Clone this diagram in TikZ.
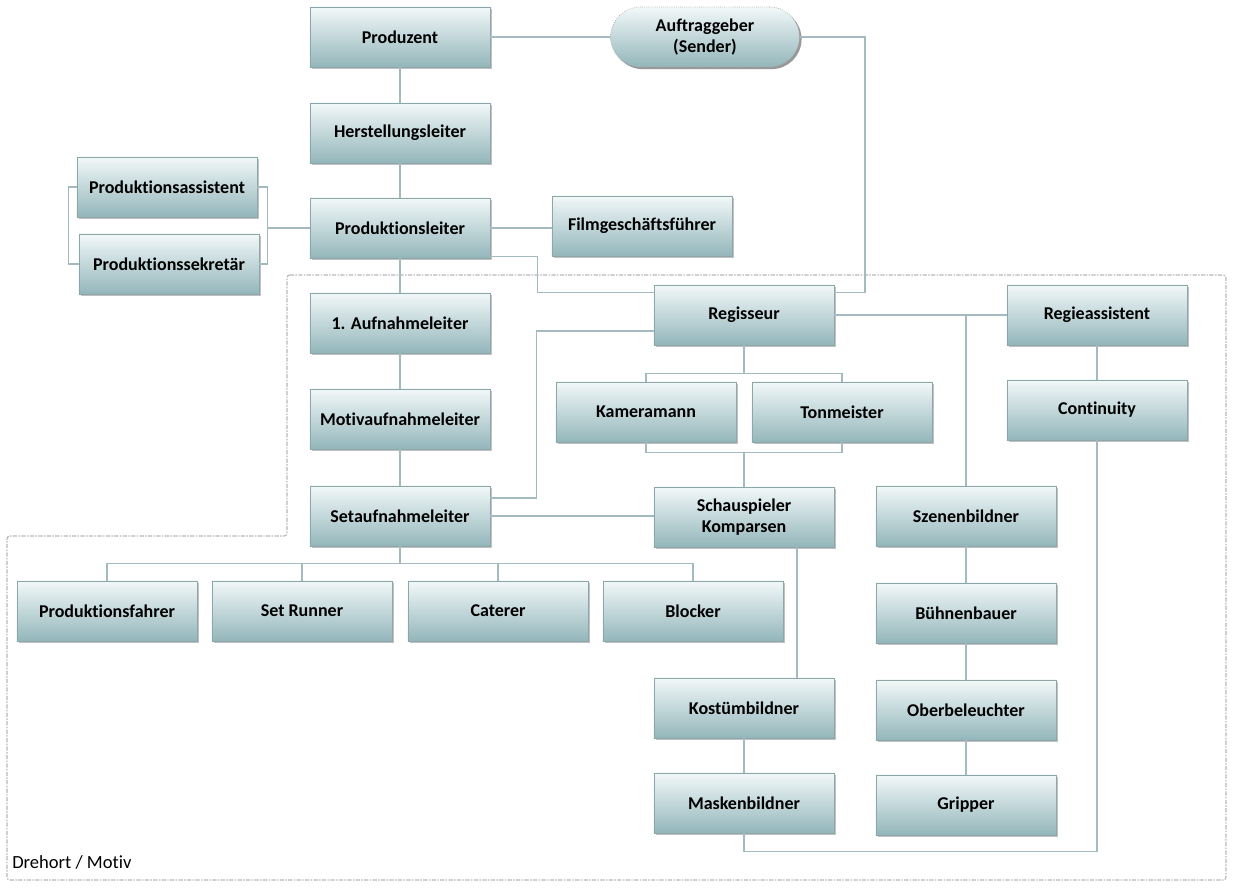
\documentclass[tikz,border=0pt]{standalone}
\usepackage{fontspec}
\setmainfont{Carlito}[Ligatures={NoCommon}]
\usetikzlibrary{calc,shadows}

\definecolor{boxtop}{HTML}{F2F8F8}
\definecolor{boxbot}{HTML}{93B6BB}
\definecolor{boxline}{HTML}{8CA6AA}
\definecolor{linkcol}{HTML}{A3BBBE}
\definecolor{zonecol}{HTML}{B4B8B8}

\tikzset{
  rolebox/.style={rectangle, draw=boxline, line width=.5pt, top color=boxtop, bottom color=boxbot,
    minimum width=4.5cm, minimum height=1.5cm, inner sep=0pt, align=center,
    font=\bfseries\fontsize{12.8}{15}\selectfont,
    drop shadow={shadow xshift=1.5pt, shadow yshift=-1.5pt, opacity=.35, fill=black!70}},
  clientbox/.style={rolebox, rounded corners=0.75cm, minimum width=4.72cm, draw=gray!70, densely dotted},
  link/.style={draw=linkcol, line width=1.2pt},
  zone/.style={draw=zonecol, line width=.8pt, rounded corners=2pt,
    dash pattern=on 3pt off 1pt on 1pt off 1pt}
}

\begin{document}
\begin{tikzpicture}[x=0.025cm, y=-0.025cm]

        \useasboundingbox (0,0) rectangle (1239,895);

        \draw[zone] (287,275) -- (1226,275) -- (1226,880) -- (7,880) -- (7,536) -- (287,536) -- cycle;
        \node[anchor=south west, inner sep=0pt, font=\fontsize{13.2}{15}\selectfont] (drehort) at (12,870) {Drehort / Motiv};

        \begin{scope}[every node/.style={rolebox}]
          \node (prod)    at (400,37)  {Produzent};
          \node[clientbox] (auft) at (705,37) {Auftraggeber\\(Sender)};
          \node (herst)   at (400,133) {Herstellungsleiter};
          \node (passist) at (167,187) {Produktionsassistent};
          \node (psekr)   at (169,264) {Produktionssekretär};
          \node (pleit)   at (400,228) {Produktionsleiter};
          \node (filmgf)  at (642,226) {Filmgeschäftsführer};
          \node (aufn1)   at (400,323) {1. Aufnahmeleiter};
          \node (regie)   at (744,315) {Regisseur};
          \node (regass)  at (1097,315) {Regieassistent};
          \node (kamera)  at (646,412) {Kameramann};
          \node (ton)     at (842,412) {Tonmeister};
          \node (cont)    at (1097,410) {Continuity};
          \node (motiv)   at (400,419) {Motivaufnahmeleiter};
          \node (setauf)  at (400,516) {Setaufnahmeleiter};
          \node (schau)   at (744,517) {Schauspieler\\Komparsen};
          \node (szen)    at (966,516) {Szenenbildner};
          \node (pfahr)   at (107,611) {Produktionsfahrer};
          \node (runner)  at (302,611) {Set Runner};
          \node (cater)   at (498,611) {Caterer};
          \node (block)   at (693,611) {Blocker};
          \node (buehne)  at (966,613) {Bühnenbauer};
          \node (kost)    at (744,708) {Kostümbildner};
          \node (ober)    at (966,710) {Oberbeleuchter};
          \node (mask)    at (744,803) {Maskenbildner};
          \node (grip)    at (966,805) {Gripper};
        \end{scope}

        \begin{scope}[every edge/.style={link}]
          \path (prod)   edge (auft);
          \path (prod)   edge (herst);
          \path (herst)  edge (pleit);
          \path (pleit)  edge (aufn1);
          \path (aufn1)  edge (motiv);
          \path (motiv)  edge (setauf);
          \path (pleit.east) edge (pleit.east -| filmgf.west);
          \path (setauf.east) edge (setauf.east -| schau.west);
          \path (regie.east) edge (regass.west);
          \path (regass) edge (cont);
          \path (kost)   edge (mask);
          \path (szen)   edge (buehne);
          \path (buehne) edge (ober);
          \path (ober)   edge (grip);
        \end{scope}

        \begin{scope}[link]
          \draw (pleit.west) -- ($(passist.east |- pleit.west)+(10,0)$);
          \draw (passist.east) -- ++(10,0) |- (psekr.east);
          \draw (passist.west) -- ++(-8,0) |- (psekr.west);
          \draw (auft.east) -- ++(65,0) |- ($(regie.north east)+(0,8)$);
          \draw ($(pleit.south east)+(0,-2)$) -- ++(47,0) |- ($(regie.north west)+(0,8)$);
          \draw ($(regie.west)+(0,16)$) -- ++(-117,0) |- ($(setauf.east)+(0,-18)$);
          \draw (regie.south) -- ++(0,28) coordinate (kt);
          \draw (kamera.north) |- (kt) -| (ton.north);
          \draw (kamera.south) -- ++(0,10) -| (ton.south);
          \draw (schau.north) -- ++(0,-35);
          \draw (szen.north) -- (szen.north |- regie.east);
          \draw (cont.south) -- ++(0,411) -| (mask.south);
          \draw ($(schau.south)+(53,0)$) coordinate (sk) -- (sk |- kost.north);
          \draw (setauf.south) -- ++(0,17) coordinate (sb);
          \draw (pfahr.north) |- (sb) -| (block.north);
          \draw (runner.north) -- (runner.north |- sb);
          \draw (cater.north) -- (cater.north |- sb);
        \end{scope}

      \end{tikzpicture}
\end{document}
